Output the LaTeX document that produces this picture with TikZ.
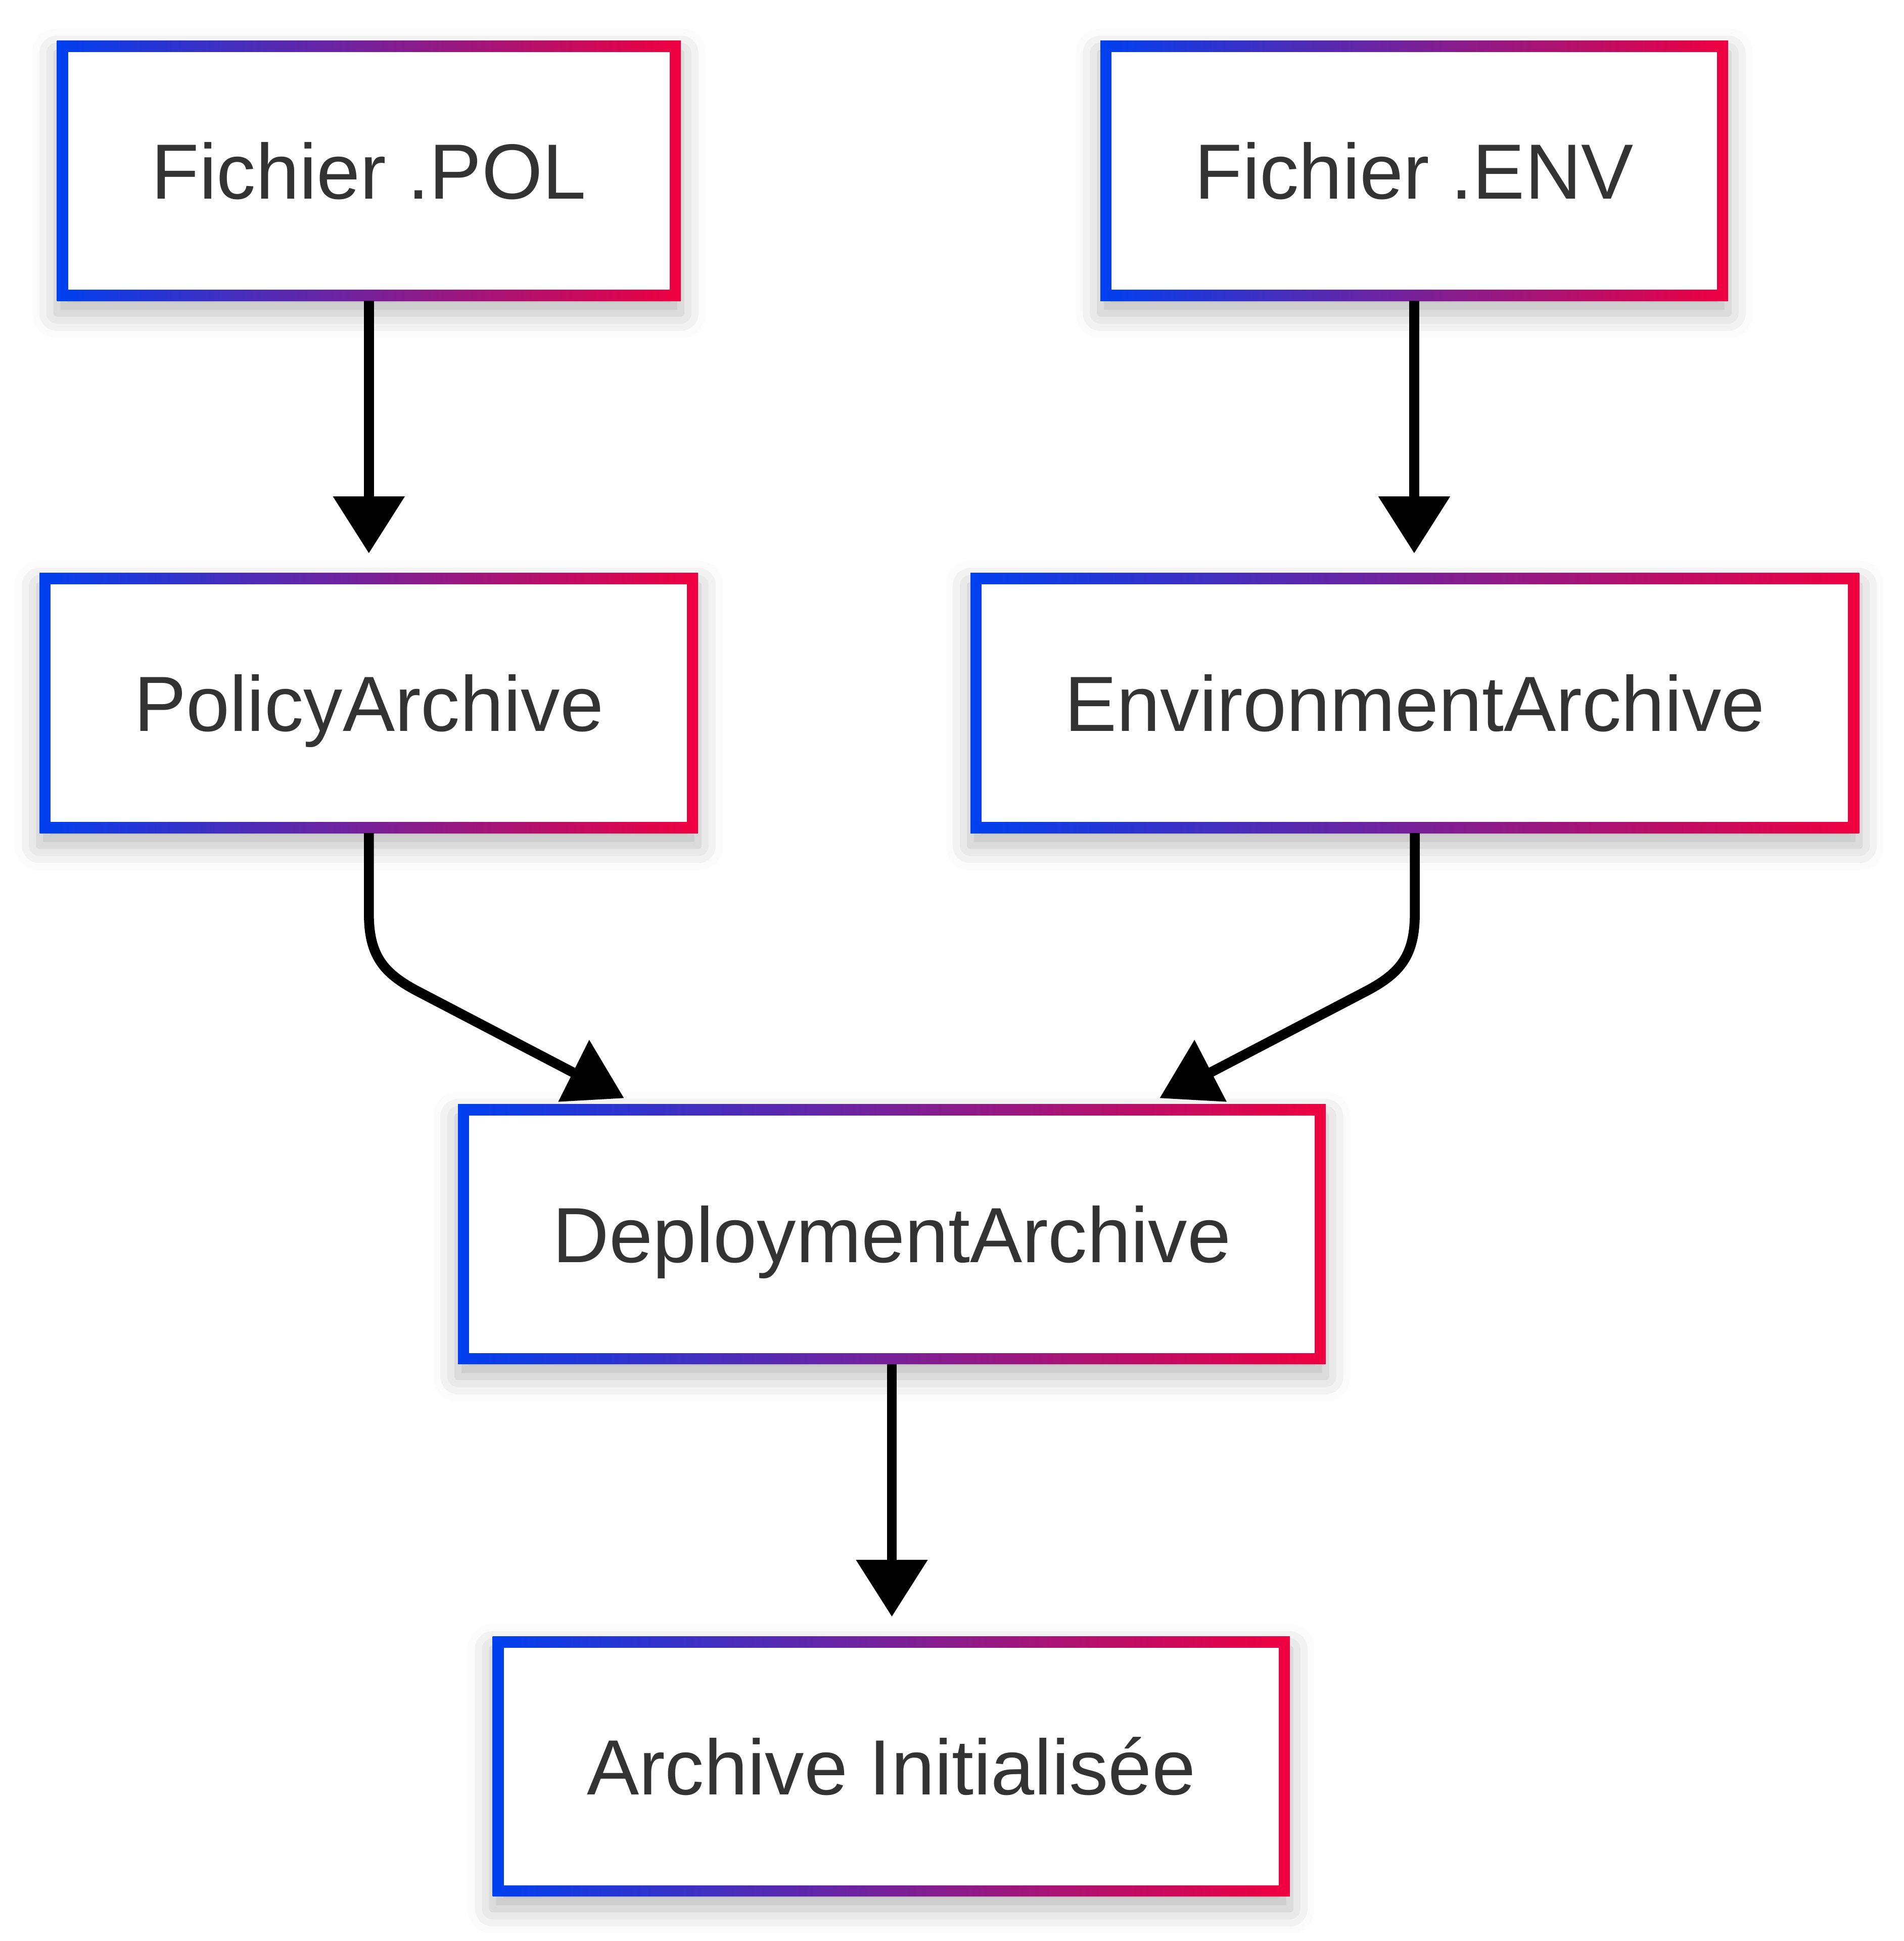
\documentclass[tikz,border=0pt]{standalone}
\usepackage{fontspec}
\setmainfont{Liberation Sans}
\usetikzlibrary{arrows.meta,calc,shadows.blur}
\definecolor{gblue}{RGB}{0,64,240}
\definecolor{gred}{RGB}{240,0,64}
\definecolor{txt}{RGB}{51,51,51}
\tikzset{
  gbox/.style={rectangle, draw=none, outer sep=0pt, inner sep=0pt,
    minimum height=52.5pt, left color=gblue, right color=gred,
    text=txt, font=\fontsize{15.8pt}{19pt}\selectfont,
    text height=11.3pt, text depth=0pt,
    blur shadow={shadow xshift=0pt, shadow yshift=-2.5pt, shadow blur radius=5pt, shadow opacity=28},
    path picture={\fill[white] ($(path picture bounding box.south west)+(2.25pt,2.25pt)$) rectangle ($(path picture bounding box.north east)-(2.25pt,2.25pt)$);}},
  conn/.style={line width=2pt, draw=black},
  straightarrow/.style={conn, -{Triangle[length=11.5pt,width=14pt]}, shorten >=4pt},
  headfill/.style={fill=black, draw=none}
}
\begin{document}
\begin{tikzpicture}[x=0.25pt,y=-0.25pt]
\useasboundingbox (0,0) rectangle (1538,1568);
\node[gbox, minimum width=126pt] (pol) at (298,138) {Fichier .POL};
\node[gbox, minimum width=126.75pt] (env) at (1142.5,138) {Fichier .ENV};
\node[gbox, minimum width=133pt] (pa) at (298,568) {PolicyArchive};
\node[gbox, minimum width=179.5pt] (ea) at (1143,568) {EnvironmentArchive};
\node[gbox, minimum width=175.25pt] (da) at (720.5,997) {DeploymentArchive};
\node[gbox, minimum width=161pt] (ai) at (720,1427) {Archive Initialisée};

\draw[straightarrow] (pol.south) -- (pa.north);
\draw[straightarrow] (env.south) -- (env.south |- ea.north);
\draw[straightarrow] (da.south) -- (da.south |- ai.north);

% curved connectors into DeploymentArchive
\coordinate (lend) at ($(da.north west)+(100,-22)$);
\coordinate (rend) at ($(da.north east)+(-100,-22)$);
\draw[conn, line join=round] (pa.south) -- ($(pa.south)+(0,65)$)
  .. controls ($(pa.south)+(0,99)$) and ($(pa.south)+(12,113)$) .. ($(pa.south)+(38,127)$) -- (lend);
\draw[conn, line join=round] (ea.south) -- ($(ea.south)+(0,65)$)
  .. controls ($(ea.south)+(0,99)$) and ($(ea.south)+(-12,113)$) .. ($(ea.south)+(-38,127)$) -- (rend);
\fill[headfill] ($(da.north west)+(106,-52)$) -- ($(da.north west)+(81,-2)$) -- ($(da.north west)+(134,-5)$) -- cycle;
\fill[headfill] ($(da.north east)+(-106,-52)$) -- ($(da.north east)+(-134,-5)$) -- ($(da.north east)+(-80,-2)$) -- cycle;
\end{tikzpicture}
\end{document}
